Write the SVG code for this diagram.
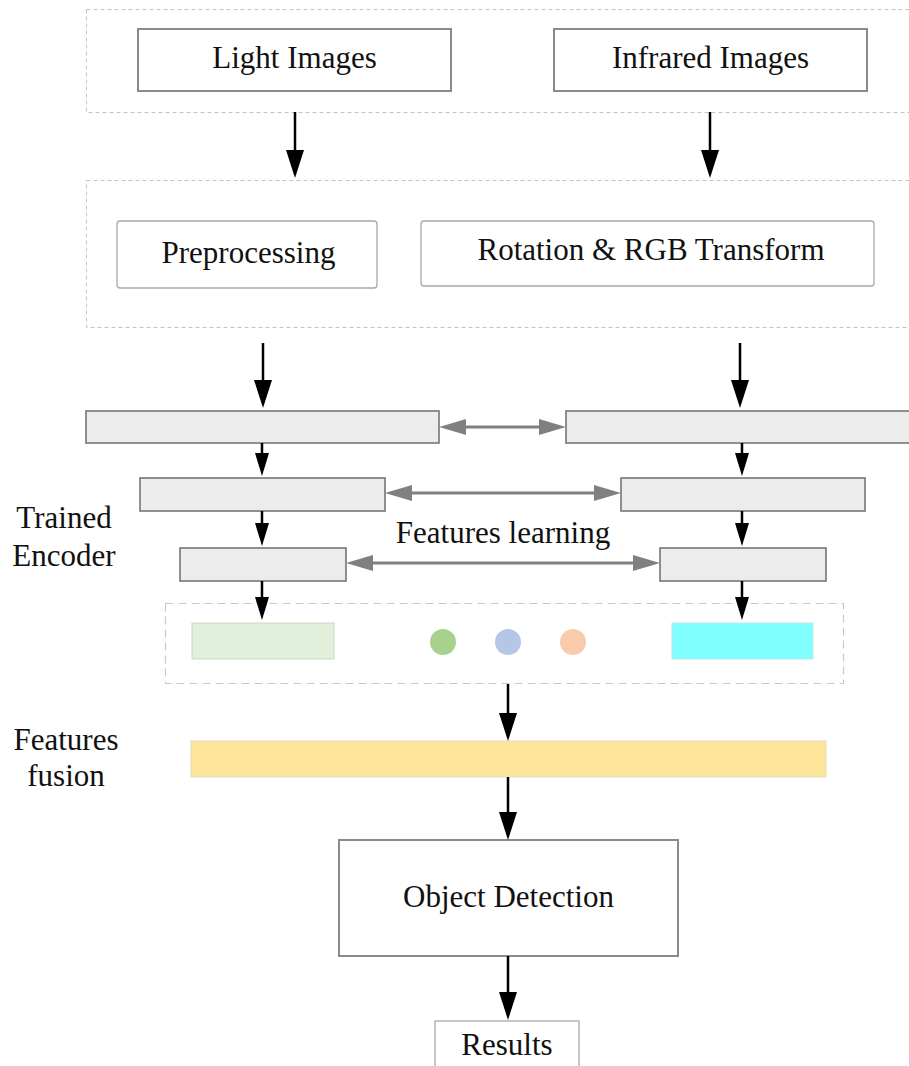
<svg xmlns="http://www.w3.org/2000/svg" width="909" height="1066" viewBox="0 0 909 1066">
  <style>
    text { font-family: "Liberation Serif", "Times New Roman", serif; font-size: 31px; fill: #111; }
    .mid { text-anchor: middle; }
    .group { fill: none; stroke: #c4c4c4; stroke-width: 1; stroke-dasharray: 4 3; }
    .fgroup { fill: none; stroke: #c8c8c8; stroke-width: 1.2; stroke-dasharray: 8 5; }
    .src { fill: #fff; stroke: #8a8a8a; stroke-width: 2; }
    .step { fill: #fff; stroke: #a8a8a8; stroke-width: 1.3; }
    .bar { fill: #ececec; stroke: #767676; stroke-width: 1.6; }
    .flow { stroke: #000; stroke-width: 2.5; fill: none; marker-end: url(#head); }
    .flow-s { stroke: #000; stroke-width: 2.5; fill: none; marker-end: url(#head-s); }
    .link { stroke: #808080; stroke-width: 3; fill: none; marker-start: url(#head-g); marker-end: url(#head-g); }
  </style>
  <defs>
    <marker id="head" markerUnits="userSpaceOnUse" markerWidth="28" markerHeight="18" refX="18" refY="9" orient="auto" viewBox="0 0 28 18">
      <path d="M0,0 L28,9 L0,18 z" fill="#000"/>
    </marker>
    <marker id="head-s" markerUnits="userSpaceOnUse" markerWidth="23" markerHeight="14" refX="15" refY="7" orient="auto" viewBox="0 0 23 14">
      <path d="M0,0 L23,7 L0,14 z" fill="#000"/>
    </marker>
    <marker id="head-g" markerUnits="userSpaceOnUse" markerWidth="27" markerHeight="16" refX="17" refY="8" orient="auto-start-reverse" viewBox="0 0 27 16">
      <path d="M0,0 L27,8 L0,16 z" fill="#808080"/>
    </marker>
  </defs>

  <!-- input stage -->
  <g id="inputs">
    <rect class="group" x="86.5" y="9.5" width="830" height="103"/>
  </g>
  <g id="light-images">
    <rect class="src" x="138" y="29" width="313" height="62"/>
    <text class="mid" x="294.5" y="68">Light Images</text>
  </g>
  <g id="infrared-images">
    <rect class="src" x="554" y="29" width="313" height="62"/>
    <text class="mid" x="710.5" y="68">Infrared Images</text>
  </g>

  <!-- preprocessing stage -->
  <g id="preprocess-stage">
    <rect class="group" x="86.5" y="180.5" width="830" height="147"/>
  </g>
  <g id="preprocessing">
    <rect class="step" x="117" y="221" width="260" height="67" rx="3"/>
    <text class="mid" x="248.5" y="263">Preprocessing</text>
  </g>
  <g id="rotation-rgb">
    <rect class="step" x="421" y="221" width="453" height="65" rx="3"/>
    <text class="mid" x="651" y="260">Rotation &amp; RGB Transform</text>
  </g>

  <!-- encoder layers -->
  <g id="enc-left-1"><rect class="bar" x="86" y="411" width="353" height="32"/></g>
  <g id="enc-right-1"><rect class="bar" x="566" y="411" width="350" height="32"/></g>
  <g id="enc-left-2"><rect class="bar" x="140" y="478" width="245" height="33"/></g>
  <g id="enc-right-2"><rect class="bar" x="621" y="478" width="244" height="33"/></g>
  <g id="enc-left-3"><rect class="bar" x="180" y="548" width="166" height="33"/></g>
  <g id="enc-right-3"><rect class="bar" x="660" y="548" width="166" height="33"/></g>

  <g id="label-encoder">
    <text x="64" y="528" class="mid">Trained</text>
    <text x="64" y="566" class="mid">Encoder</text>
  </g>
  <g id="label-learning">
    <text class="mid" x="503" y="543">Features learning</text>
  </g>

  <!-- extracted features -->
  <g id="features">
    <rect class="fgroup" x="165.5" y="603.5" width="678" height="80"/>
    <rect x="192" y="623" width="142" height="36" fill="#e2efda" stroke="#cdd8c6" stroke-width="1"/>
    <circle cx="443" cy="642" r="13" fill="#a9d18e"/>
    <circle cx="508" cy="642" r="13" fill="#b4c7e7"/>
    <circle cx="573" cy="642" r="13" fill="#f8cbad"/>
    <rect x="672" y="623" width="141" height="36" fill="#80ffff" stroke="#bde8e8" stroke-width="1"/>
  </g>

  <!-- fusion -->
  <g id="label-fusion">
    <text class="mid" x="66" y="750">Features</text>
    <text class="mid" x="66" y="786">fusion</text>
  </g>
  <g id="fusion">
    <rect x="191" y="741" width="635" height="36" fill="#fde599" stroke="#e4dcc0" stroke-width="1"/>
  </g>

  <g id="object-detection">
    <rect class="src" x="339" y="840" width="339" height="116"/>
    <text class="mid" x="508.5" y="907">Object Detection</text>
  </g>
  <g id="results">
    <rect class="step" x="435" y="1021" width="144" height="60"/>
    <text class="mid" x="507" y="1055">Results</text>
  </g>

  <!-- connectors -->
  <g id="connectors">
    <line class="flow" x1="295" y1="112" x2="295" y2="168"/>
    <line class="flow" x1="710" y1="112" x2="710" y2="168"/>
    <line class="flow" x1="263" y1="343" x2="263" y2="398"/>
    <line class="flow" x1="740" y1="343" x2="740" y2="398"/>

    <line class="flow-s" x1="262" y1="443" x2="262" y2="468"/>
    <line class="flow-s" x1="262" y1="511" x2="262" y2="538"/>
    <line class="flow-s" x1="262" y1="581" x2="262" y2="612"/>
    <line class="flow-s" x1="742" y1="443" x2="742" y2="468"/>
    <line class="flow-s" x1="742" y1="511" x2="742" y2="538"/>
    <line class="flow-s" x1="742" y1="581" x2="742" y2="612"/>

    <line class="link" x1="449" y1="427" x2="556" y2="427"/>
    <line class="link" x1="395" y1="493" x2="611" y2="493"/>
    <line class="link" x1="356" y1="563" x2="650" y2="563"/>

    <line class="flow" x1="508" y1="684" x2="508" y2="731"/>
    <line class="flow" x1="508" y1="777" x2="508" y2="830"/>
    <line class="flow" x1="508" y1="956" x2="508" y2="1010"/>
  </g>
</svg>
